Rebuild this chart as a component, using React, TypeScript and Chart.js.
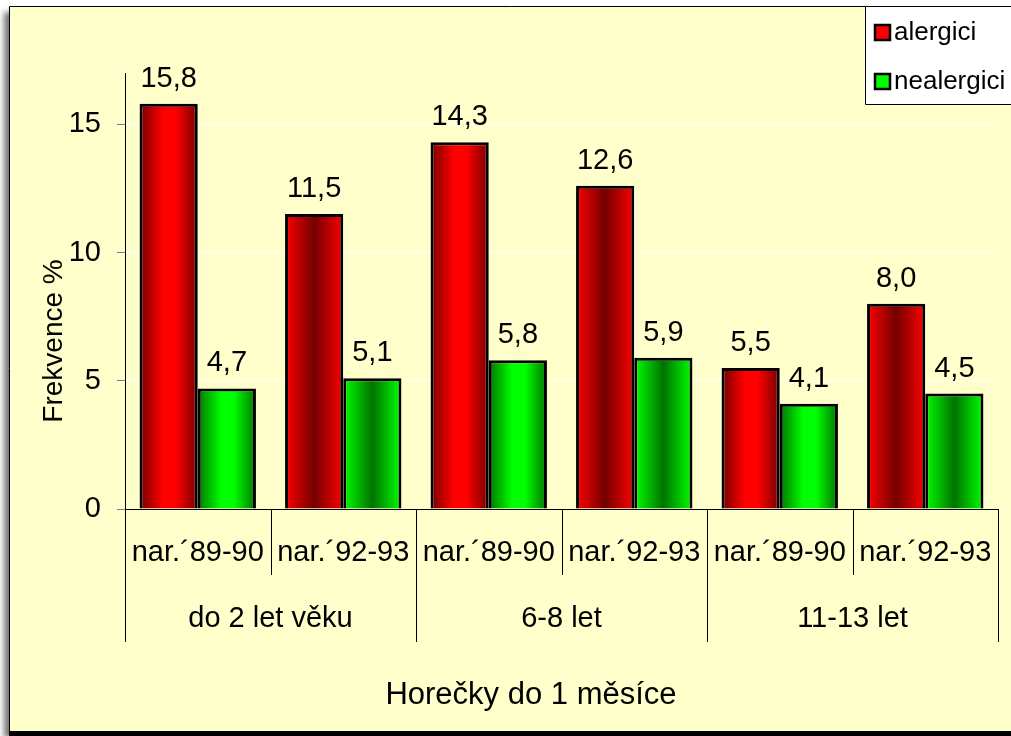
import React, { useEffect, useRef } from "react";
import { Chart, registerables } from "chart.js";

Chart.register(...registerables);

const categories = ["nar.´89-90", "nar.´92-93", "nar.´89-90", "nar.´92-93", "nar.´89-90", "nar.´92-93"];
const groups = ["do 2 let věku", "6-8 let", "11-13 let"];
const seriesNames = ["alergici", "nealergici"];
const alergici = [15.8, 11.5, 14.3, 12.6, 5.5, 8.0];
const nealergici = [4.7, 5.1, 5.8, 5.9, 4.1, 4.5];
const yTicks = [0, 5, 10, 15];
const yMax = 17;
const xTitle = "Horečky do 1 měsíce";
const yTitle = "Frekvence %";

const FONT = '"Liberation Sans", Arial, sans-serif';
const BG = "#FFFFCC";
const W = 1011;
const H = 736;
const LBL = 29;

const palette = [
  { dark: "#740000", bright: "#ff0000", solid: "#ff0000" },
  { dark: "#007400", bright: "#00ff00", solid: "#00ff00" },
];

const fmt = (v: number) => v.toFixed(1).replace(".", ",");

const decorPlugin = {
  id: "decor",
  beforeDraw(chart: any) {
    const ctx = chart.ctx as CanvasRenderingContext2D;
    ctx.save();
    ctx.fillStyle = "#ffffff";
    ctx.fillRect(0, 0, W, H);
    ctx.save();
    ctx.shadowColor = "rgba(0,0,0,0.55)";
    ctx.shadowBlur = 6;
    ctx.shadowOffsetX = -5;
    ctx.shadowOffsetY = 6;
    ctx.fillStyle = BG;
    ctx.fillRect(9, 6, W - 9 + 20, 726);
    ctx.restore();
    ctx.strokeStyle = "#000";
    ctx.lineWidth = 1;
    ctx.beginPath();
    ctx.moveTo(9.5, 731);
    ctx.lineTo(9.5, 6.5);
    ctx.lineTo(W, 6.5);
    ctx.stroke();
    ctx.fillStyle = "#000";
    ctx.fillRect(9, 731, W - 9, 5);
    ctx.restore();
  },
  beforeDatasetsDraw(chart: any) {
    const ctx = chart.ctx as CanvasRenderingContext2D;
    chart.data.datasets.forEach((ds: any, di: number) => {
      const meta = chart.getDatasetMeta(di);
      const pal = palette[di];
      meta.data.forEach((el: any, i: number) => {
        const { x, width } = el.getProps(["x", "width"], true);
        const left = x - width / 2;
        const g = ctx.createLinearGradient(left, 0, left + width, 0);
        if (i % 2 === 0) {
          g.addColorStop(0, pal.dark);
          g.addColorStop(0.4, pal.bright);
          g.addColorStop(0.62, pal.bright);
          g.addColorStop(1, pal.dark);
        } else {
          g.addColorStop(0, pal.bright);
          g.addColorStop(0.5, pal.dark);
          g.addColorStop(1, pal.bright);
        }
        el.options = Object.assign({}, el.options, { backgroundColor: g });
      });
    });
  },
  afterDatasetsDraw(chart: any) {
    const ctx = chart.ctx as CanvasRenderingContext2D;
    ctx.save();
    ctx.fillStyle = "#000";
    ctx.font = `${LBL}px ${FONT}`;
    ctx.textAlign = "center";
    ctx.textBaseline = "alphabetic";
    chart.data.datasets.forEach((ds: any, di: number) => {
      const meta = chart.getDatasetMeta(di);
      meta.data.forEach((el: any, i: number) => {
        const { x, y } = el.getProps(["x", "y"], true);
        ctx.fillText(fmt(ds.data[i]), x, y - 17);
      });
    });
    ctx.restore();
  },
  afterDraw(chart: any) {
    const ctx = chart.ctx as CanvasRenderingContext2D;
    const area = chart.chartArea;
    const xs = chart.scales.x;
    const n = categories.length;
    const cw = (area.right - area.left) / n;
    const axisY = area.bottom;
    ctx.save();
    ctx.strokeStyle = "#000";
    ctx.lineWidth = 1;
    for (let i = 0; i <= n; i++) {
      const x = Math.round(area.left + i * cw) + 0.5;
      const bottom = i % 2 === 0 ? 642 : 575;
      ctx.beginPath();
      ctx.moveTo(x, axisY);
      ctx.lineTo(x, bottom);
      ctx.stroke();
    }
    ctx.fillStyle = "#000";
    ctx.font = `${LBL}px ${FONT}`;
    ctx.textAlign = "center";
    ctx.textBaseline = "alphabetic";
    categories.forEach((c, i) => {
      ctx.fillText(c, xs.getPixelForValue(i), 561);
    });
    groups.forEach((g, gi) => {
      const cx = area.left + (gi * 2 + 1) * cw;
      ctx.fillText(g, cx, 627);
    });
    ctx.font = `31px ${FONT}`;
    ctx.fillText(xTitle, 531, 704);
    ctx.save();
    ctx.translate(62, 341);
    ctx.rotate(-Math.PI / 2);
    ctx.font = `28px ${FONT}`;
    ctx.textAlign = "center";
    ctx.fillText(yTitle, 0, 0);
    ctx.restore();
    // legend
    ctx.fillStyle = "#ffffff";
    ctx.fillRect(865, 6, W - 865, 99);
    ctx.strokeStyle = "#000";
    ctx.lineWidth = 1;
    ctx.beginPath();
    ctx.moveTo(865.5, 6.5);
    ctx.lineTo(865.5, 104.5);
    ctx.lineTo(W, 104.5);
    ctx.moveTo(865.5, 6.5);
    ctx.lineTo(W, 6.5);
    ctx.stroke();
    const itemY = [32, 81];
    ctx.font = `26px ${FONT}`;
    ctx.textAlign = "left";
    ctx.textBaseline = "middle";
    seriesNames.forEach((s, i) => {
      const y = itemY[i];
      ctx.fillStyle = palette[i].solid;
      ctx.fillRect(875, y - 7, 15, 15);
      ctx.lineWidth = 2.5;
      ctx.strokeStyle = "#000";
      ctx.strokeRect(875, y - 7, 15, 15);
      ctx.fillStyle = "#000";
      ctx.fillText(s, 894, y + 1);
    });
    ctx.restore();
  },
};

export default function App() {
  const ref = useRef<HTMLCanvasElement | null>(null);
  useEffect(() => {
    if (!ref.current) return;
    const chart = new Chart(ref.current, {
      type: "bar",
      data: {
        labels: categories,
        datasets: [
          {
            label: seriesNames[0],
            data: alergici,
            backgroundColor: () => palette[0].solid,
            borderColor: "#000",
            borderWidth: 3,
            categoryPercentage: 0.8,
            barPercentage: 1.0,
          },
          {
            label: seriesNames[1],
            data: nealergici,
            backgroundColor: () => palette[1].solid,
            borderColor: "#000",
            borderWidth: 3,
            categoryPercentage: 0.8,
            barPercentage: 1.0,
          },
        ],
      },
      options: {
        responsive: false,
        animation: false,
        layout: { padding: { left: 0, right: 13, top: 73, bottom: 0 } },
        plugins: { legend: { display: false }, tooltip: { enabled: false } },
        scales: {
          x: {
            grid: { display: false },
            ticks: { display: false },
            border: { display: true, color: "#000", width: 1 },
            afterFit: (s: any) => {
              s.height = 227;
            },
          },
          y: {
            min: 0,
            max: yMax,
            afterBuildTicks: (s: any) => {
              s.ticks = yTicks.map((v) => ({ value: v }));
            },
            ticks: {
              color: "#000",
              font: { family: FONT, size: LBL },
              padding: 16,
            },
            grid: {
              color: "#ffffff",
              tickColor: "#808080",
              tickLength: 8,
              lineWidth: 1,
            },
            border: { display: true, color: "#000", width: 1 },
            afterFit: (s: any) => {
              s.width = 125;
            },
          },
        },
      },
      plugins: [decorPlugin],
    } as any);
    return () => chart.destroy();
  }, []);
  return (
    <div style={{ position: "absolute", left: 0, top: 0, width: W, height: H }}>
      <canvas ref={ref} width={W} height={H} style={{ display: "block", width: W, height: H }} />
    </div>
  );
}
